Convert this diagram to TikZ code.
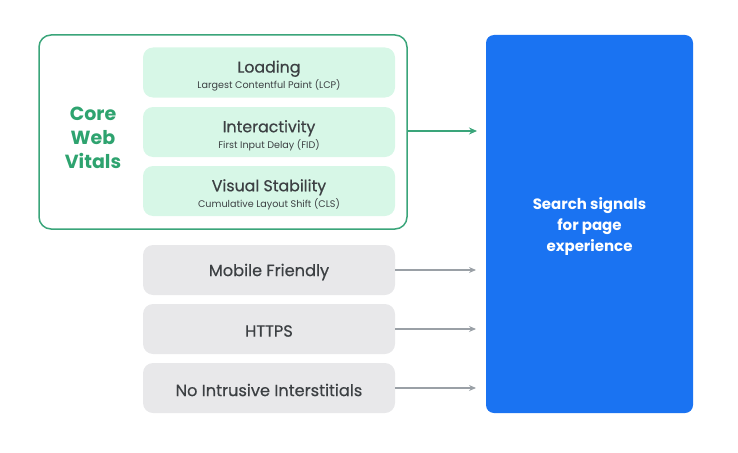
\documentclass[tikz,border=0pt]{standalone}
\usepackage{fontspec}
\setmainfont{Poppins}
\newfontfamily\medfont[FakeBold=0.5]{Poppins}
\usetikzlibrary{arrows.meta}
\definecolor{gblue}{HTML}{1A73F2}
\definecolor{ggreen}{HTML}{2EA36F}
\definecolor{gline}{HTML}{3AA57A}
\definecolor{lgreen}{HTML}{D7F7E7}
\definecolor{lgray}{HTML}{E8E8EA}
\definecolor{dtext}{HTML}{3C4043}
\definecolor{garrow}{HTML}{9AA0A6}
\newcommand{\mtitle}[1]{{\medfont\fontsize{15.8}{18}\selectfont #1}}
\newcommand{\msub}[1]{{\fontsize{9.6}{11}\selectfont #1}}
\tikzset{
  metric/.style={fill=lgreen, rounded corners=10pt, minimum width=252pt, minimum height=50pt, inner sep=0pt, align=center, text=dtext},
  signal/.style={fill=lgray, rounded corners=10pt, minimum width=252pt, minimum height=50pt, inner sep=0pt, align=center, text=dtext, font=\medfont\fontsize{16.2}{19}\selectfont},
  grayarrow/.style={draw=garrow, line width=1.2pt, -{Stealth[length=7pt,width=6pt]}},
  greenarrow/.style={draw=gline, line width=1.3pt, -{Stealth[length=8pt,width=7pt]}},
}
\begin{document}
\begin{tikzpicture}[x=1pt,y=-1pt]
\useasboundingbox (0,0) rectangle (738,452);
\node[draw=gline, line width=1.5pt, rounded corners=12pt, minimum width=368pt, minimum height=194pt, inner sep=0pt] (cwv) at (223,132) {};
\node[metric] (load) at (269,72.5) {};
\node[metric] (inter) at (269,132) {};
\node[metric] (vis) at (269,191) {};
\node[text=dtext, align=center] (loadt) at ([yshift=-3.5pt]load.center) {\mtitle{Loading}\\[2pt]\msub{Largest Contentful Paint (LCP)}};
\node[text=dtext, align=center] (intert) at ([yshift=-3.5pt]inter.center) {\mtitle{Interactivity}\\[2pt]\msub{First Input Delay (FID)}};
\node[text=dtext, align=center] (vist) at ([yshift=-3.5pt]vis.center) {\mtitle{Visual Stability}\\[2pt]\msub{Cumulative Layout Shift (CLS)}};
\node[text=ggreen, font=\bfseries\fontsize{19}{24}\selectfont, align=center] (cwvlabel) at (93,138) {Core\\Web\\Vitals};
\node[signal] (mob) at (269,270) {};
\node[signal] (https) at (269,329) {};
\node[signal] (nii) at (269,388) {};
\node[text=dtext, font=\medfont\fontsize{16.2}{19}\selectfont] at ([yshift=-2pt]mob.center) {Mobile Friendly};
\node[text=dtext, font=\medfont\fontsize{16.2}{19}\selectfont] at ([yshift=-2pt]https.center) {HTTPS};
\node[text=dtext, font=\medfont\fontsize{16.2}{19}\selectfont] at ([yshift=-2pt]nii.center) {No Intrusive Interstitials};
\node[fill=gblue, rounded corners=8pt, minimum width=207pt, minimum height=378pt, inner sep=0pt] (search) at (589.5,224) {};
\node[text=white, align=center, font=\bfseries\fontsize{15}{21}\selectfont] (searcht) at (589.5,226) {Search signals\\for page\\experience};
\coordinate (gend) at (477,131);
\coordinate (m1) at (476,270);
\coordinate (m2) at (476,329);
\coordinate (m3) at (476,388);
\draw[greenarrow] (cwv.east |- gend) -- (gend);
\draw[grayarrow] (mob.east) -- (m1);
\draw[grayarrow] (https.east) -- (m2);
\draw[grayarrow] (nii.east) -- (m3);
\end{tikzpicture}
\end{document}
